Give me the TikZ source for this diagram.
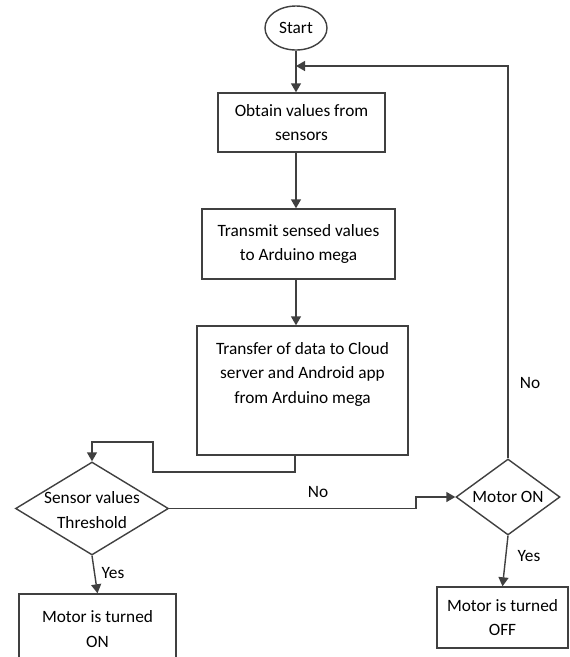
\documentclass[tikz,border=0pt]{standalone}
\usepackage{fontspec}
\setmainfont{Carlito}
\usetikzlibrary{shapes.geometric,arrows.meta}
\definecolor{ln}{HTML}{404040}
\begin{document}
\begin{tikzpicture}[x=1pt,y=-1pt,
  every node/.style={font=\fontsize{17.3}{24.5}\selectfont, text=black},
  boxn/.style={draw=ln, line width=1.4pt, rectangle, inner sep=0pt},
  txt/.style={align=center, inner sep=0pt},
  dia/.style={draw=ln, line width=1.4pt, diamond, inner sep=0pt, align=center},
  line/.style={draw=ln, line width=1.4pt},
  arr/.style={line, -{Triangle[width=10pt,length=9pt]}}]
\clip (0,0) rectangle (570,657);
\fill[white] (0,0) rectangle (570,657);
% nodes
\node[draw=ln, line width=1.4pt, ellipse, minimum width=62pt, minimum height=44pt, inner sep=0pt] (start) at (296,28) {Start};
\node[boxn, minimum width=167pt, minimum height=59pt, align=center] (b1) at (301.5,122.5) {Obtain values from\\sensors};
\node[boxn, minimum width=193pt, minimum height=70pt, align=center] (b2) at (298.5,244) {Transmit sensed values\\to Arduino mega};
\node[boxn, minimum width=211pt, minimum height=129pt] (b3) at (302.5,390.5) {};
\node[txt] (b3t) at (302.5,374) {Transfer of data to Cloud\\server and Android app\\from Arduino mega};
\node[dia, minimum width=153pt, minimum height=93pt] (d1) at (92,508.5) {};
\node[txt] (d1t) at (92,510) {Sensor values\\Threshold};
\node[dia, minimum width=104pt, minimum height=76pt] (d2) at (508,497) {};
\node[txt] (d2t) at (508,497) {Motor ON};
\node[boxn, minimum width=157pt, minimum height=80pt] (b4) at (97.5,634) {};
\node[txt] (b4t) at (97.5,629) {Motor is turned\\ON};
\node[boxn, minimum width=131pt, minimum height=61pt, align=center] (b5) at (502.5,617.5) {Motor is turned\\OFF};
% connectors
\draw[arr] (start.south) -- (start.south |- b1.north);
\draw[arr] (b1.south -| start.south) -- (start.south |- b2.north);
\draw[arr] (b2.south -| start.south) -- (start.south |- b3.north);
\draw[arr] ([xshift=-7.5pt]b3.south) -- (295,472) -- (153,472) -- (153,442) -| (d1.north);
\draw[arr] (d1.east) -- (416,508.5) -- (416,497) -- (d2.west);
\draw[arr] (d2.north) |- (start.south |- 0,66);
\draw[arr] (d1.south) -- (b4.north);
\draw[arr] (d2.south) -- (b5.north);
% labels
\node[txt] (lno1) at (318,492) {No};
\node[txt] (lno2) at (530,383) {No};
\node[txt] (lyes1) at (113,573) {Yes};
\node[txt] (lyes2) at (529,556) {Yes};
\end{tikzpicture}
\end{document}
